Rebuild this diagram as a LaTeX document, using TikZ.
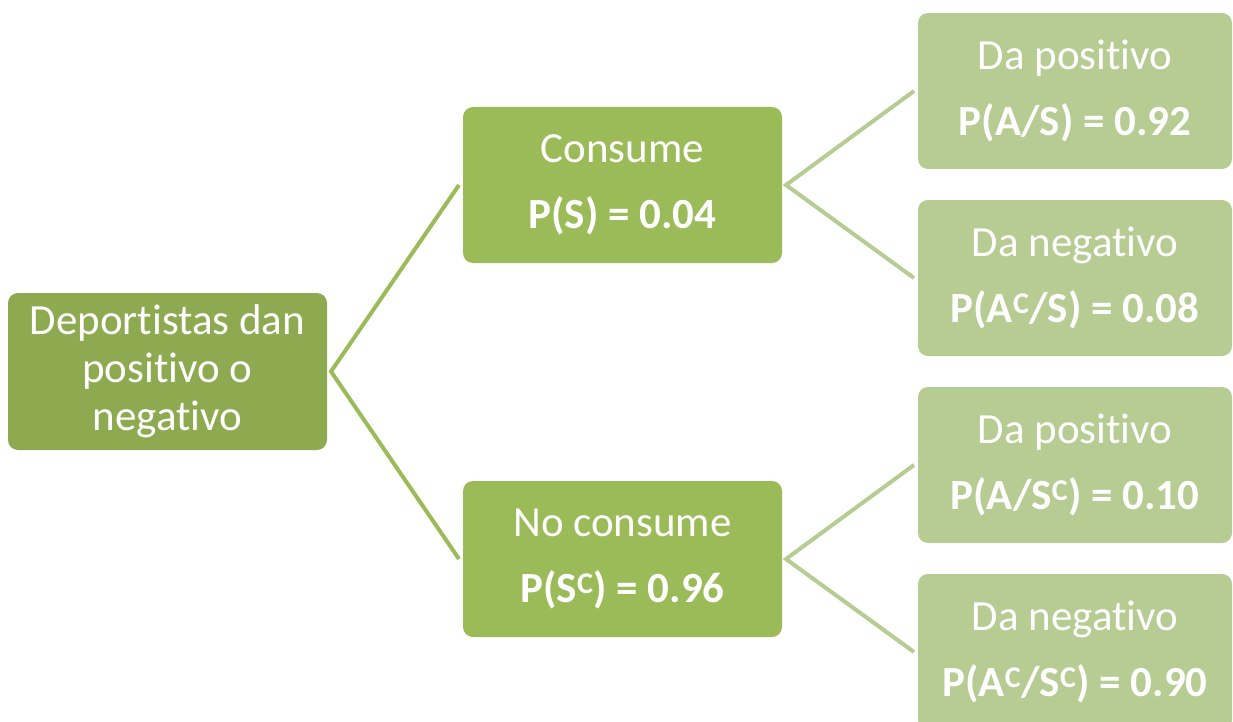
\documentclass[tikz,border=0pt]{standalone}
\usepackage{fontspec}
\setmainfont{Carlito}[Ligatures=NoCommon]
\definecolor{rootg}{HTML}{8DAA50}
\definecolor{midg}{HTML}{9BBB59}
\definecolor{leafg}{HTML}{B6CC92}
\begin{document}
\begin{tikzpicture}[x=1pt,y=-1pt,
  box/.style={rounded corners=10pt, text=white, align=center, inner sep=0pt, outer sep=4pt},
  rootbox/.style={box, fill=rootg, minimum width=319pt, minimum height=157pt, font=\fontsize{43}{48}\selectfont},
  midbox/.style={box, fill=midg, minimum width=319pt, minimum height=156pt, font=\fontsize{43}{66}\selectfont},
  leafbox/.style={box, fill=leafg, minimum width=314pt, minimum height=156pt, font=\fontsize{43}{66}\selectfont},
  link/.style={line width=4pt},
]
\useasboundingbox (0,0) rectangle (1233,722);
\clip (0,0) rectangle (1233,722);
\node[rootbox] (root) at (167.5,371.5) {Deportistas dan\\positivo o\\negativo};
\node[midbox] (m1) at (622.5,185) {Consume\\\textbf{P(S) = 0.04}};
\node[midbox] (m2) at (622.5,559) {No consume\\\textbf{P(S\textsuperscript{C}) = 0.96}};
\node[leafbox] (l1) at (1075,91) {Da positivo\\\textbf{P(A/S) = 0.92}};
\node[leafbox] (l2) at (1075,278) {Da negativo\\\textbf{P(A\textsuperscript{C}/S) = 0.08}};
\node[leafbox] (l3) at (1075,465) {Da positivo\\\textbf{P(A/S\textsuperscript{C}) = 0.10}};
\node[leafbox] (l4) at (1075,652) {Da negativo\\\textbf{P(A\textsuperscript{C}/S\textsuperscript{C}) = 0.90}};
\draw[link, midg] (m1.west) -- (root.east) -- (m2.west);
\draw[link, leafg] (l1.west) -- (m1.east) -- (l2.west);
\draw[link, leafg] (l3.west) -- (m2.east) -- (l4.west);
\end{tikzpicture}
\end{document}
